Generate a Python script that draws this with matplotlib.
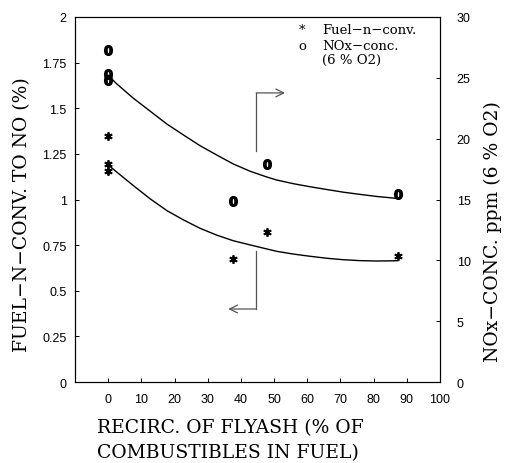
import numpy as np
import matplotlib
matplotlib.use('Agg')
import matplotlib.pyplot as plt

# measured points
fuel_x = [0, 0, 0, 37.6, 47.8, 87.3]
fuel_y = [1.35, 1.195, 1.155, 0.674, 0.824, 0.692]
nox_x = [0, 0, 0, 37.6, 47.8, 87.3]
nox_y = [27.3, 25.3, 24.8, 14.85, 17.9, 15.45]

# fitted curves
curve_x = [0, 2.6, 7.6, 12.7, 17.7, 22.7, 27.7, 32.7, 37.7, 42.8, 47.8,
           50.8, 55.8, 60.8, 65.9, 70.9, 75.9, 80.9, 85.9, 87.3]
fuel_fit = [1.19, 1.15, 1.076, 1.003, 0.939, 0.888, 0.842, 0.805, 0.774, 0.751,
            0.729, 0.716, 0.701, 0.689, 0.678, 0.670, 0.665, 0.663, 0.664, 0.665]
nox_fit = [25.2, 24.5, 23.32, 22.25, 21.2, 20.3, 19.42, 18.66, 17.92, 17.32,
           16.85, 16.6, 16.3, 16.05, 15.82, 15.6, 15.42, 15.25, 15.12, 15.1]

xticks = [0, 10, 20, 30, 40, 50, 60, 70, 80, 90, 100]
yticks_left = [0, 0.25, 0.5, 0.75, 1, 1.25, 1.5, 1.75, 2]
ylabels_left = ['0', '0.25', '0.5', '0.75', '1', '1.25', '1.5', '1.75', '2']
yticks_right = [0, 5, 10, 15, 20, 25, 30]

serif = 'DejaVu Serif'
sans = 'Liberation Sans'

fig = plt.figure(figsize=(5.13, 4.64), dpi=100)
ax = fig.add_axes([75/513, 1-383/464, 365/513, 365/464])
ax2 = ax.twinx()

ax.set_xlim(-10, 100)
ax.set_ylim(0, 2)
ax2.set_ylim(0, 30)

ax.set_xticks(xticks)
ax.set_xticklabels([str(t) for t in xticks], fontfamily=sans, fontsize=9)
ax.set_yticks(yticks_left)
ax.set_yticklabels(ylabels_left, fontfamily=sans, fontsize=9)
ax2.set_yticks(yticks_right)
ax2.set_yticklabels([str(t) for t in yticks_right], fontfamily=sans, fontsize=9)

ax.tick_params(axis='x', direction='in', length=3, width=0.7, pad=8)
ax.tick_params(axis='y', direction='in', length=3, width=0.7, pad=6)
ax2.tick_params(axis='y', direction='in', length=3, width=0.7, pad=12)
for a in (ax, ax2):
    for s in a.spines.values():
        s.set_linewidth(0.8)

ax.plot(curve_x, fuel_fit, color='black', lw=1.0)
ax2.plot(curve_x, nox_fit, color='black', lw=1.0)

ax.plot(fuel_x, fuel_y, ls='none', marker=(6, 2, 0), ms=6, mew=1.3, color='black')
ax2.plot(nox_x, nox_y, ls='none', marker=r'$\mathbf{0}$', ms=7, color='black')

# arrows pointing to the axes
arr = dict(arrowstyle='->', color='#555555', lw=0.9, shrinkA=0, shrinkB=0,
           mutation_scale=14)
ax.plot([44.6, 44.6], [1.267, 1.584], color='#555555', lw=0.9)
ax.annotate('', xy=(53.3, 1.584), xytext=(44.6, 1.584), arrowprops=arr)
ax.plot([44.6, 44.6], [0.719, 0.40], color='#555555', lw=0.9)
ax.annotate('', xy=(36.2, 0.40), xytext=(44.6, 0.40), arrowprops=arr)

# legend drawn as text
fig.text(302/513, 1-31/464, '*', fontfamily=serif, fontsize=9.5, ha='center', va='center')
fig.text(322/513, 1-30/464, 'Fuel\u2212n\u2212conv.', fontfamily=serif, fontsize=9.5, va='center')
fig.text(302/513, 1-46/464, 'o', fontfamily=serif, fontsize=9.5, ha='center', va='center')
fig.text(322/513, 1-46/464, 'NOx\u2212conc.', fontfamily=serif, fontsize=9.5, va='center')
fig.text(322/513, 1-60/464, '(6 % O2)', fontfamily=serif, fontsize=9.5, va='center')

fig.text(22/513, 1-215/464, 'FUEL\u2212N\u2212CONV. TO NO (%)', rotation=90,
         fontfamily=serif, fontsize=13.5, ha='center', va='center')
fig.text(493/513, 1-232/464, 'NOx\u2212CONC. ppm (6 % O2)', rotation=90,
         fontfamily=serif, fontsize=13.5, ha='center', va='center')
fig.text(97/513, 1-428/464, 'RECIRC. OF FLYASH (% OF', fontfamily=serif,
         fontsize=13.5, ha='left', va='center')
fig.text(97/513, 1-453/464, 'COMBUSTIBLES IN FUEL)', fontfamily=serif,
         fontsize=13.5, ha='left', va='center')

fig.savefig('out.png', dpi=100)
